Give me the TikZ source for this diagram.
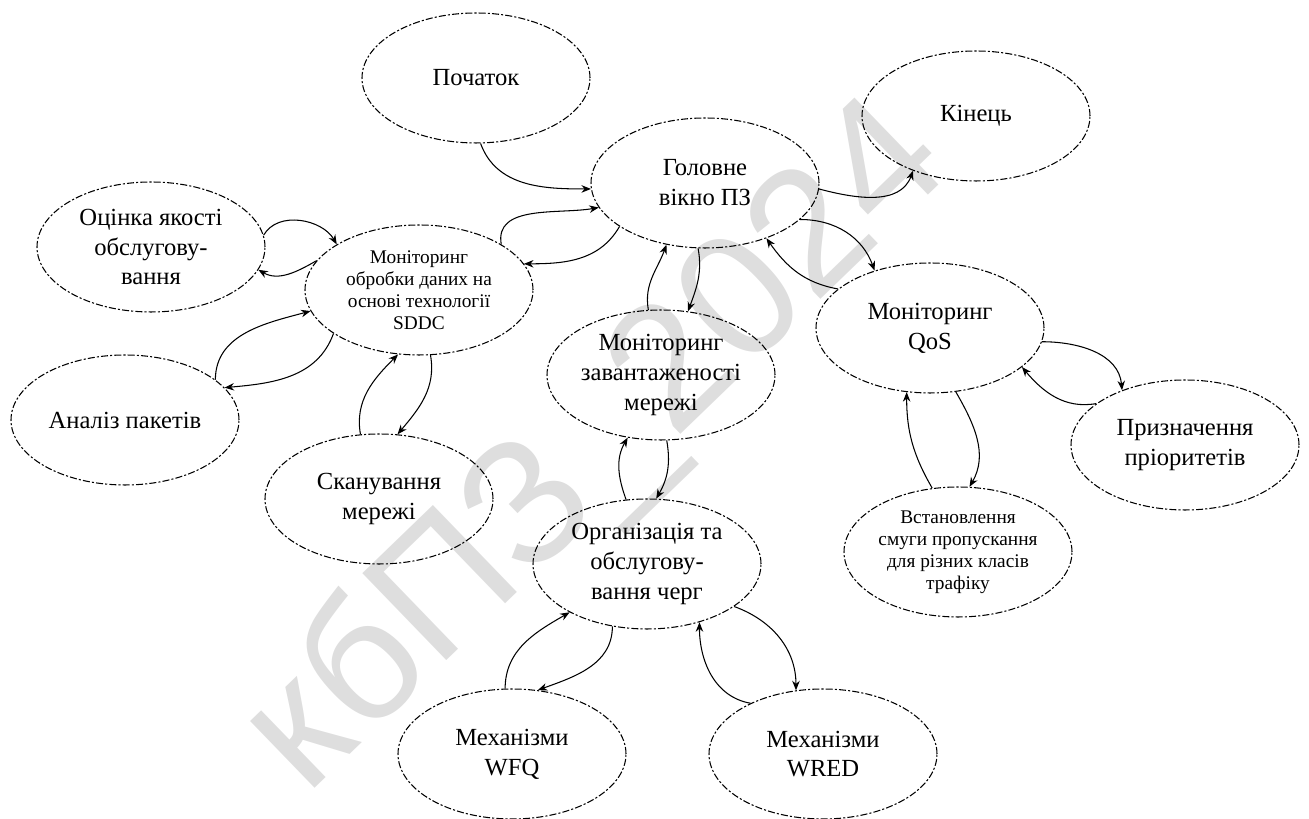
\documentclass[tikz,border=0pt]{standalone}
\usepackage{fontspec}
\setmainfont{Liberation Serif}
\newfontfamily\wmfont{Liberation Sans}
\usetikzlibrary{arrows.meta,shapes.geometric}
\definecolor{WmGray}{RGB}{222,222,222}

\begin{document}
\begin{tikzpicture}[>={Stealth[length=1.9mm,width=1.5mm]}]
  \tikzset{blob/.style={ellipse,draw,line width=0.6pt,dash pattern=on 4pt off 1.2pt on 1.2pt off 1.2pt,minimum width=4.56cm,minimum height=2.6cm,inner sep=0pt,align=center,font=\fontsize{14}{17}\selectfont},smalltext/.style={font=\fontsize{11}{12.5}\selectfont},link/.style={->,line width=0.6pt}}
  \useasboundingbox (0,0) rectangle (26.18,16.38);
  \node[text=WmGray,font=\wmfont\fontsize{100}{100}\selectfont,rotate=44] (wm) at (11.96,7.40) {кбПЗ\_2024};
  \node[blob] (start) at (9.52,14.82) {Початок};
  \node[blob] (main) at (14.10,12.72) {Головне\\вікно ПЗ};
  \node[blob] (end) at (19.52,14.06) {Кінець};
  \node[blob] (eval) at (3.02,11.44) {Оцінка якості\\обслугову-\\вання};
  \node[blob,smalltext] (sddc) at (8.38,10.58) {Моніторинг\\обробки даних на\\основі технології\\SDDC};
  \node[blob] (pkt) at (2.50,7.98) {Аналіз пакетів};
  \node[blob] (scan) at (7.58,6.40) {Сканування\\мережі};
  \node[blob] (load) at (13.22,8.88) {Моніторинг\\завантаженості\\мережі};
  \node[blob] (queue) at (12.94,5.10) {Організація та\\обслугову-\\вання черг};
  \node[blob] (qos) at (18.60,9.82) {Моніторинг\\QoS};
  \node[blob] (prio) at (23.70,7.48) {Призначення\\пріоритетів};
  \node[blob,smalltext] (band) at (19.16,5.34) {Встановлення\\смуги пропускання\\для різних класів\\трафіку};
  \node[blob] (wfq) at (10.24,1.30) {Механізми\\WFQ};
  \node[blob] (wred) at (16.46,1.30) {Механізми\\WRED};
  \draw[link] (start.-86) to[out=-70,in=180] (main.183);
  \draw[link] (main.-3) to[out=-15,in=-110] (end.-139);
  \draw[link] (sddc.29) to[out=100,in=190] (main.193);
  \draw[link] (main.207) to[out=240,in=0] (sddc.14);
  \draw[link] (eval.6) to[out=60,in=120] (sddc.151);
  \draw[link] (sddc.164) to[out=210,in=-30] (eval.-12);
  \draw[link] (pkt.24) to[out=90,in=195] (sddc.191);
  \draw[link] (sddc.207) to[out=250,in=5] (pkt.18);
  \draw[link] (scan.106) to[out=100,in=225] (sddc.-108);
  \draw[link] (sddc.-80) to[out=-80,in=50] (scan.74);
  \draw[link] (load.101) to[out=100,in=-110] (main.-122);
  \draw[link] (main.-96) to[out=-80,in=70] (load.67);
  \draw[link] (main.-21) to[out=0,in=110] (qos.134);
  \draw[link] (qos.157) to[out=170,in=-55] (main.-42);
  \draw[link] (qos.-7) to[out=0,in=95] (prio.139);
  \draw[link] (prio.155) to[out=190,in=-50] (qos.-23);
  \draw[link] (band.112) to[out=120,in=-90] (qos.-110);
  \draw[link] (qos.-68) to[out=-60,in=60] (band.80);
  \draw[link] (queue.108) to[out=110,in=-120] (load.-118);
  \draw[link] (load.-85) to[out=-80,in=60] (queue.82);
  \draw[link] (wfq.96) to[out=90,in=210] (queue.212);
  \draw[link] (queue.-119) to[out=-90,in=20] (wfq.68);
  \draw[link] (wred.145) to[out=170,in=-90] (queue.-48);
  \draw[link] (queue.-26) to[out=-20,in=90] (wred.113);
\end{tikzpicture}
\end{document}
